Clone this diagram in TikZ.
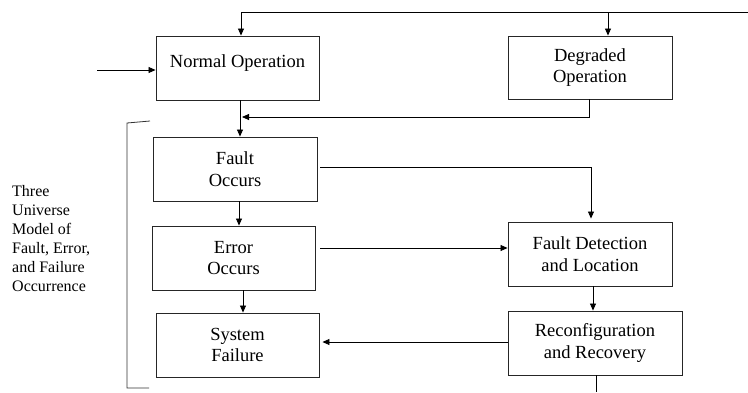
\documentclass[tikz,border=0pt]{standalone}
\usepackage{fontspec}
\setmainfont{Liberation Serif}
\usetikzlibrary{arrows.meta,calc}

\tikzset{
  box/.style={draw=black!85, line width=0.9pt, rectangle, align=center,
    minimum height=64pt, inner sep=2pt,
    font=\fontsize{18.5}{21.5}\selectfont},
  arr/.style={draw, line width=0.8pt, -{Triangle[length=7pt,width=6pt]}},
  wire/.style={draw, line width=0.8pt},
  side/.style={align=left, inner sep=0pt, anchor=north west,
    font=\fontsize{16}{19}\selectfont}
}

\begin{document}
\begin{tikzpicture}[x=1pt,y=-1pt]
\useasboundingbox (0,0) rectangle (748,392);

% operating modes
\node[box, minimum width=163pt] (no) at (237.5,68) {};
\node[font=\fontsize{18.5}{21.5}\selectfont] (notext) at ([yshift=5pt]no.center) {Normal Operation};
\node[box, minimum width=164pt, minimum height=63pt] (dg) at (590,67.5) {Degraded\\Operation};

% fault / error / failure chain
\node[box, minimum width=164pt] (fo) at (235,169) {Fault\\Occurs};
\node[box, minimum width=163pt] (er) at (233.5,258) {Error\\Occurs};
\node[box, minimum width=163pt] (sf) at (237.5,345) {System\\Failure};

% detection and recovery
\node[box, minimum width=164pt] (fd) at (590,254) {Fault Detection\\and Location};
\node[box, minimum width=174pt] (rc) at (595,343) {Reconfiguration\\and Recovery};

% side caption and its bracket
\node[side] (cap) at (12,185) {Three\\Universe\\Model of\\Fault, Error,\\and Failure\\Occurrence};
\draw[line width=0.8pt, black!80] (150,121) -- (127,123) -- (127,388) -- (149,388);

% free ends of connectors
\coordinate (topR) at (748,12);
\coordinate (inL) at (97,70);
\coordinate (merge) at (242,117);
\coordinate (bot) at (596,392);

% return loop across the top
\draw[arr] (topR) -| ([xshift=3.5pt]no.north);
\coordinate (j1) at ([xshift=18pt]dg.north |- topR);
\draw[arr] (j1) -- (j1 |- dg.north);

% external input
\draw[arr] (inL) -- (inL -| no.west);

% normal operation into fault, degraded operation merging in
\draw[arr] ([xshift=2.5pt]no.south) -- ([xshift=5pt]fo.north);
\draw[arr] ([xshift=-1pt]dg.south) |- (merge);

% chain downwards
\draw[arr] ([xshift=4pt]fo.south) -- ([xshift=5.5pt]er.north);
\draw[arr] ([xshift=9.5pt]er.south) -- ([xshift=5.5pt]sf.north);

% into fault detection
\draw[arr] ([xshift=3pt,yshift=2pt]fo.east) -| ([xshift=1pt,yshift=3pt]fd.north);
\draw[arr] ([xshift=5pt,yshift=10pt]er.east) coordinate (e1) -- (e1 -| fd.west);

% detection to recovery, recovery to failure
\draw[arr] ([xshift=3pt]fd.south) -- ([xshift=-2pt]rc.north);
\draw[arr] ([yshift=1pt]rc.west) coordinate (r1) -- ([xshift=3pt]r1 -| sf.east);
\draw[wire] ([xshift=1pt]rc.south) -- (bot);
\end{tikzpicture}
\end{document}
